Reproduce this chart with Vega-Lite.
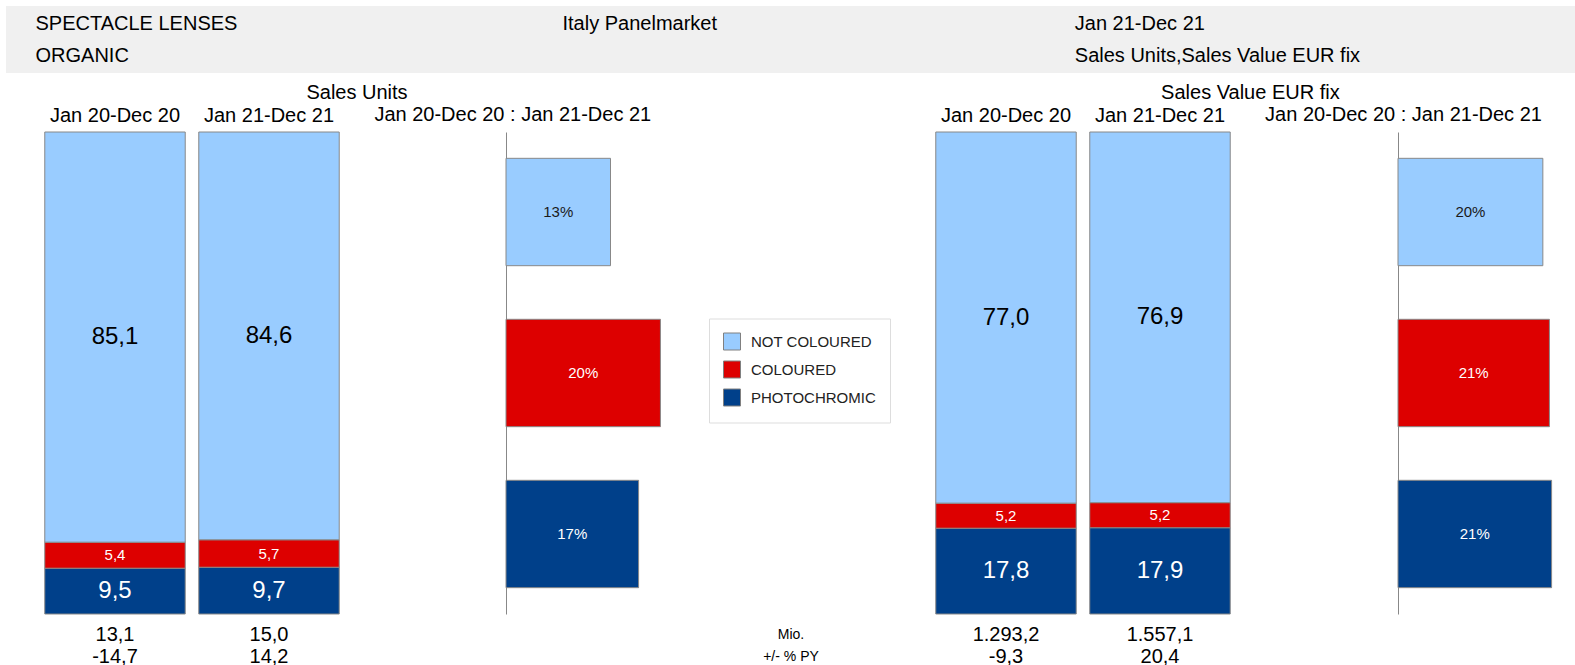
{
  "$schema": "https://vega.github.io/schema/vega-lite/v6.json",
  "padding": {"left": 6, "top": 6, "right": 0, "bottom": 0},
  "background": "white",
  "config": {
    "font": "Liberation Sans, Arial, sans-serif",
    "view": {"stroke": null},
    "title": {"fontSize": 20, "fontWeight": "normal", "color": "black", "font": "Liberation Sans, Arial, sans-serif"},
    "axis": {"labelFont": "Liberation Sans, Arial, sans-serif"},
    "text": {"font": "Liberation Sans, Arial, sans-serif"},
    "locale": {"number": {"decimal": ",", "thousands": ".", "grouping": [3], "currency": ["", " €"], "minus": "-"}}
  },
  "datasets": {
    "header": [
      {"column": "left", "line": "top", "label": "SPECTACLE LENSES"},
      {"column": "left", "line": "bottom", "label": "ORGANIC"},
      {"column": "middle", "line": "top", "label": "Italy Panelmarket"},
      {"column": "right", "line": "top", "label": "Jan 21-Dec 21"},
      {"column": "right", "line": "bottom", "label": "Sales Units,Sales Value EUR fix"}
    ],
    "shares": [
      {"measure": "Sales Units", "period": "Jan 20-Dec 20", "category": "PHOTOCHROMIC", "share": 9.5},
      {"measure": "Sales Units", "period": "Jan 20-Dec 20", "category": "COLOURED", "share": 5.4},
      {"measure": "Sales Units", "period": "Jan 20-Dec 20", "category": "NOT COLOURED", "share": 85.1},
      {"measure": "Sales Units", "period": "Jan 21-Dec 21", "category": "PHOTOCHROMIC", "share": 9.7},
      {"measure": "Sales Units", "period": "Jan 21-Dec 21", "category": "COLOURED", "share": 5.7},
      {"measure": "Sales Units", "period": "Jan 21-Dec 21", "category": "NOT COLOURED", "share": 84.6},
      {"measure": "Sales Value EUR fix", "period": "Jan 20-Dec 20", "category": "PHOTOCHROMIC", "share": 17.8},
      {"measure": "Sales Value EUR fix", "period": "Jan 20-Dec 20", "category": "COLOURED", "share": 5.2},
      {"measure": "Sales Value EUR fix", "period": "Jan 20-Dec 20", "category": "NOT COLOURED", "share": 77.0},
      {"measure": "Sales Value EUR fix", "period": "Jan 21-Dec 21", "category": "PHOTOCHROMIC", "share": 17.9},
      {"measure": "Sales Value EUR fix", "period": "Jan 21-Dec 21", "category": "COLOURED", "share": 5.2},
      {"measure": "Sales Value EUR fix", "period": "Jan 21-Dec 21", "category": "NOT COLOURED", "share": 76.9}
    ],
    "changes": [
      {"measure": "Sales Units", "category": "NOT COLOURED", "change": 0.134},
      {"measure": "Sales Units", "category": "COLOURED", "change": 0.198},
      {"measure": "Sales Units", "category": "PHOTOCHROMIC", "change": 0.170},
      {"measure": "Sales Value EUR fix", "category": "NOT COLOURED", "change": 0.199},
      {"measure": "Sales Value EUR fix", "category": "COLOURED", "change": 0.208},
      {"measure": "Sales Value EUR fix", "category": "PHOTOCHROMIC", "change": 0.211}
    ],
    "totals": [
      {"measure": "Sales Units", "period": "Jan 20-Dec 20", "line": "Mio.", "value": 13.1},
      {"measure": "Sales Units", "period": "Jan 20-Dec 20", "line": "+/- % PY", "value": -14.7},
      {"measure": "Sales Units", "period": "Jan 21-Dec 21", "line": "Mio.", "value": 15.0},
      {"measure": "Sales Units", "period": "Jan 21-Dec 21", "line": "+/- % PY", "value": 14.2},
      {"measure": "Sales Value EUR fix", "period": "Jan 20-Dec 20", "line": "Mio.", "value": 1293.2},
      {"measure": "Sales Value EUR fix", "period": "Jan 20-Dec 20", "line": "+/- % PY", "value": -9.3},
      {"measure": "Sales Value EUR fix", "period": "Jan 21-Dec 21", "line": "Mio.", "value": 1557.1},
      {"measure": "Sales Value EUR fix", "period": "Jan 21-Dec 21", "line": "+/- % PY", "value": 20.4}
    ],
    "rowLabels": [
      {"line": "Mio."},
      {"line": "+/- % PY"}
    ]
  },
  "columns": 10,
  "align": "each",
  "bounds": "flush",
  "spacing": 0,
  "concat": [
    {"width": 32, "height": 67, "view": {"fill": "#f0f0f0"}, "data": {"values": []}, "mark": "point"},
    {
      "width": 308, "height": 67, "view": {"fill": "#f0f0f0"},
      "data": {"name": "header"},
      "transform": [{"filter": "datum.column === 'left'"}],
      "mark": {"type": "text", "align": "left", "baseline": "middle", "fontSize": 20, "color": "black"},
      "encoding": {
        "x": {"field": "column", "type": "nominal", "scale": {"range": [-2.5, -2.5], "padding": 0}, "axis": null},
        "y": {"field": "line", "type": "nominal", "scale": {"domain": ["top", "bottom"], "range": [17.9, 49.8], "padding": 0}, "axis": null},
        "text": {"field": "label"}
      }
    },
    {"width": 160, "height": 67, "view": {"fill": "#f0f0f0"}, "data": {"values": []}, "mark": "point"},
    {"width": 174, "height": 67, "view": {"fill": "#f0f0f0"}, "data": {"values": []}, "mark": "point"},
    {
      "width": 61, "height": 67, "view": {"fill": "#f0f0f0"},
      "data": {"name": "header"},
      "transform": [{"filter": "datum.column === 'middle'"}],
      "mark": {"type": "text", "align": "left", "baseline": "middle", "fontSize": 20, "color": "black"},
      "encoding": {
        "x": {"field": "column", "type": "nominal", "scale": {"range": [-117.5, -117.5], "padding": 0}, "axis": null},
        "y": {"field": "line", "type": "nominal", "scale": {"domain": ["top", "bottom"], "range": [17.9, 49.8], "padding": 0}, "axis": null},
        "text": {"field": "label"}
      }
    },
    {"width": 100, "height": 67, "view": {"fill": "#f0f0f0"}, "data": {"values": []}, "mark": "point"},
    {"width": 88, "height": 67, "view": {"fill": "#f0f0f0"}, "data": {"values": []}, "mark": "point"},
    {"width": 308, "height": 67, "view": {"fill": "#f0f0f0"}, "data": {"values": []}, "mark": "point"},
    {
      "width": 161, "height": 67, "view": {"fill": "#f0f0f0"},
      "data": {"name": "header"},
      "transform": [{"filter": "datum.column === 'right'"}],
      "mark": {"type": "text", "align": "left", "baseline": "middle", "fontSize": 20, "color": "black"},
      "encoding": {
        "x": {"field": "column", "type": "nominal", "scale": {"range": [-162.2, -162.2], "padding": 0}, "axis": null},
        "y": {"field": "line", "type": "nominal", "scale": {"domain": ["top", "bottom"], "range": [17.9, 49.8], "padding": 0}, "axis": null},
        "text": {"field": "label"}
      }
    },
    {"width": 177, "height": 67, "view": {"fill": "#f0f0f0"}, "data": {"values": []}, "mark": "point"},

    {"width": 0, "height": 59, "data": {"values": []}, "mark": "point"},
    {"width": 0, "height": 59, "data": {"values": []}, "mark": "point"},
    {"width": 0, "height": 59, "data": {"values": []}, "mark": "point"},
    {"width": 0, "height": 59, "data": {"values": []}, "mark": "point"},
    {"width": 0, "height": 59, "data": {"values": []}, "mark": "point"},
    {"width": 0, "height": 59, "data": {"values": []}, "mark": "point"},
    {"width": 0, "height": 59, "data": {"values": []}, "mark": "point"},
    {"width": 0, "height": 59, "data": {"values": []}, "mark": "point"},
    {"width": 0, "height": 59, "data": {"values": []}, "mark": "point"},
    {"width": 0, "height": 59, "data": {"values": []}, "mark": "point"},

    {"width": 0, "height": 0, "data": {"values": []}, "mark": "point"},
    {
      "width": 308, "height": 482,
      "data": {"name": "shares"},
      "transform": [
        {"filter": "datum.measure === 'Sales Units'"},
        {"stack": "share", "groupby": ["period"], "as": ["v0", "v1"]},
        {"calculate": "(datum.v0 + datum.v1) / 2", "as": "mid"}
      ],
      "title": {"text": "Sales Units", "anchor": "start", "align": "center", "dx": 319, "offset": 2},
      "encoding": {
        "x": {"field": "period", "type": "nominal", "scale": {"paddingInner": 0.088, "paddingOuter": 0.044},
              "axis": {"orient": "top", "title": null, "labelAngle": 0, "ticks": false, "tickSize": 0, "domain": false, "labelPadding": 7, "labelFontSize": 20, "labelColor": "black"}}
      },
      "layer": [
        {
          "mark": {"type": "bar", "stroke": "#888888", "strokeWidth": 1},
          "encoding": {
            "y": {"field": "v0", "type": "quantitative", "scale": {"domain": [0, 100], "nice": false}, "axis": null},
            "y2": {"field": "v1"},
            "color": {"field": "category", "type": "nominal",
              "scale": {"domain": ["NOT COLOURED", "COLOURED", "PHOTOCHROMIC"], "range": ["#99CCFF", "#DD0000", "#00408A"]},
              "legend": {"title": null, "orient": "none", "legendX": 703, "legendY": 312.5, "symbolType": "square", "symbolSize": 289, "symbolStrokeColor": "#808080", "symbolStrokeWidth": 1, "labelFontSize": 15, "labelColor": "#222222", "labelOffset": 10, "rowPadding": 6, "padding": 14, "strokeColor": "#dddddd", "fillColor": "white", "labelFont": "Liberation Sans, Arial, sans-serif"}}
          }
        },
        {
          "mark": {"type": "text", "baseline": "middle"},
          "encoding": {
            "y": {"field": "mid", "type": "quantitative"},
            "text": {"field": "share", "type": "quantitative", "format": ".1f"},
            "color": {"condition": {"test": "datum.category === 'NOT COLOURED'", "value": "#000000"}, "value": "#ffffff"},
            "size": {"condition": {"test": "datum.category === 'COLOURED'", "value": 15}, "value": 24}
          }
        }
      ]
    },
    {"width": 0, "height": 0, "data": {"values": []}, "mark": "point"},
    {
      "width": 174, "height": 482,
      "data": {"name": "changes"},
      "transform": [
        {"filter": "datum.measure === 'Sales Units'"},
        {"calculate": "datum.change / 2", "as": "mid"}
      ],
      "title": {"text": "Jan 20-Dec 20 : Jan 21-Dec 21", "anchor": "start", "align": "center", "dx": 7.3, "offset": 7},
      "encoding": {
        "y": {"field": "category", "type": "nominal", "scale": {"domain": ["NOT COLOURED", "COLOURED", "PHOTOCHROMIC"], "paddingInner": 0.333, "paddingOuter": 0.1635},
              "axis": {"title": null, "labels": false, "ticks": false, "domain": true, "domainColor": "#888888", "domainWidth": 1, "grid": false}}
      },
      "layer": [
        {
          "mark": {"type": "bar", "stroke": "#888888", "strokeWidth": 1},
          "encoding": {
            "x": {"field": "change", "type": "quantitative", "scale": {"domain": [0, 0.2231], "nice": false}, "axis": null},
            "color": {"field": "category", "type": "nominal",
              "scale": {"domain": ["NOT COLOURED", "COLOURED", "PHOTOCHROMIC"], "range": ["#99CCFF", "#DD0000", "#00408A"]},
              "legend": {"title": null, "orient": "none", "legendX": 703, "legendY": 312.5, "symbolType": "square", "symbolSize": 289, "symbolStrokeColor": "#808080", "symbolStrokeWidth": 1, "labelFontSize": 15, "labelColor": "#222222", "labelOffset": 10, "rowPadding": 6, "padding": 14, "strokeColor": "#dddddd", "fillColor": "white", "labelFont": "Liberation Sans, Arial, sans-serif"}}
          }
        },
        {
          "mark": {"type": "text", "baseline": "middle", "fontSize": 15},
          "encoding": {
            "x": {"field": "mid", "type": "quantitative"},
            "text": {"field": "change", "type": "quantitative", "format": ".0%"},
            "color": {"condition": {"test": "datum.category === 'NOT COLOURED'", "value": "#1a1a1a"}, "value": "#ffffff"}
          }
        }
      ]
    },
    {"width": 0, "height": 0, "data": {"values": []}, "mark": "point"},
    {"width": 0, "height": 0, "data": {"values": []}, "mark": "point"},
    {"width": 0, "height": 0, "data": {"values": []}, "mark": "point"},
    {
      "width": 308, "height": 482,
      "data": {"name": "shares"},
      "transform": [
        {"filter": "datum.measure === 'Sales Value EUR fix'"},
        {"stack": "share", "groupby": ["period"], "as": ["v0", "v1"]},
        {"calculate": "(datum.v0 + datum.v1) / 2", "as": "mid"}
      ],
      "title": {"text": "Sales Value EUR fix", "anchor": "start", "align": "center", "dx": 321.4, "offset": 2},
      "encoding": {
        "x": {"field": "period", "type": "nominal", "scale": {"paddingInner": 0.088, "paddingOuter": 0.044},
              "axis": {"orient": "top", "title": null, "labelAngle": 0, "ticks": false, "tickSize": 0, "domain": false, "labelPadding": 7, "labelFontSize": 20, "labelColor": "black"}}
      },
      "layer": [
        {
          "mark": {"type": "bar", "stroke": "#888888", "strokeWidth": 1},
          "encoding": {
            "y": {"field": "v0", "type": "quantitative", "scale": {"domain": [0, 100], "nice": false}, "axis": null},
            "y2": {"field": "v1"},
            "color": {"field": "category", "type": "nominal",
              "scale": {"domain": ["NOT COLOURED", "COLOURED", "PHOTOCHROMIC"], "range": ["#99CCFF", "#DD0000", "#00408A"]},
              "legend": {"title": null, "orient": "none", "legendX": 703, "legendY": 312.5, "symbolType": "square", "symbolSize": 289, "symbolStrokeColor": "#808080", "symbolStrokeWidth": 1, "labelFontSize": 15, "labelColor": "#222222", "labelOffset": 10, "rowPadding": 6, "padding": 14, "strokeColor": "#dddddd", "fillColor": "white", "labelFont": "Liberation Sans, Arial, sans-serif"}}
          }
        },
        {
          "mark": {"type": "text", "baseline": "middle"},
          "encoding": {
            "y": {"field": "mid", "type": "quantitative"},
            "text": {"field": "share", "type": "quantitative", "format": ".1f"},
            "color": {"condition": {"test": "datum.category === 'NOT COLOURED'", "value": "#000000"}, "value": "#ffffff"},
            "size": {"condition": {"test": "datum.category === 'COLOURED'", "value": 15}, "value": 24}
          }
        }
      ]
    },
    {"width": 0, "height": 0, "data": {"values": []}, "mark": "point"},
    {
      "width": 160, "height": 482,
      "data": {"name": "changes"},
      "transform": [
        {"filter": "datum.measure === 'Sales Value EUR fix'"},
        {"calculate": "datum.change / 2", "as": "mid"}
      ],
      "title": {"text": "Jan 20-Dec 20 : Jan 21-Dec 21", "anchor": "start", "align": "center", "dx": 6, "offset": 7},
      "encoding": {
        "y": {"field": "category", "type": "nominal", "scale": {"domain": ["NOT COLOURED", "COLOURED", "PHOTOCHROMIC"], "paddingInner": 0.333, "paddingOuter": 0.1635},
              "axis": {"title": null, "labels": false, "ticks": false, "domain": true, "domainColor": "#888888", "domainWidth": 1, "grid": false}}
      },
      "layer": [
        {
          "mark": {"type": "bar", "stroke": "#888888", "strokeWidth": 1},
          "encoding": {
            "x": {"field": "change", "type": "quantitative", "scale": {"domain": [0, 0.2198], "nice": false}, "axis": null},
            "color": {"field": "category", "type": "nominal",
              "scale": {"domain": ["NOT COLOURED", "COLOURED", "PHOTOCHROMIC"], "range": ["#99CCFF", "#DD0000", "#00408A"]},
              "legend": {"title": null, "orient": "none", "legendX": 703, "legendY": 312.5, "symbolType": "square", "symbolSize": 289, "symbolStrokeColor": "#808080", "symbolStrokeWidth": 1, "labelFontSize": 15, "labelColor": "#222222", "labelOffset": 10, "rowPadding": 6, "padding": 14, "strokeColor": "#dddddd", "fillColor": "white", "labelFont": "Liberation Sans, Arial, sans-serif"}}
          }
        },
        {
          "mark": {"type": "text", "baseline": "middle", "fontSize": 15},
          "encoding": {
            "x": {"field": "mid", "type": "quantitative"},
            "text": {"field": "change", "type": "quantitative", "format": ".0%"},
            "color": {"condition": {"test": "datum.category === 'NOT COLOURED'", "value": "#1a1a1a"}, "value": "#ffffff"}
          }
        }
      ]
    },

    {"width": 0, "height": 0, "data": {"values": []}, "mark": "point"},
    {
      "width": 308, "height": 46,
      "data": {"name": "totals"},
      "transform": [{"filter": "datum.measure === 'Sales Units'"}],
      "mark": {"type": "text", "fontSize": 20, "color": "black", "baseline": "middle"},
      "encoding": {
        "x": {"field": "period", "type": "nominal", "axis": null},
        "y": {"field": "line", "type": "nominal", "scale": {"domain": ["Mio.", "+/- % PY"], "range": [21, 43], "padding": 0}, "axis": null},
        "text": {"field": "value", "type": "quantitative", "format": ",.1f"}
      }
    },
    {"width": 0, "height": 0, "data": {"values": []}, "mark": "point"},
    {"width": 0, "height": 0, "data": {"values": []}, "mark": "point"},
    {"width": 0, "height": 0, "data": {"values": []}, "mark": "point"},
    {
      "width": 100, "height": 46,
      "data": {"name": "rowLabels"},
      "mark": {"type": "text", "fontSize": 14, "color": "black", "baseline": "middle"},
      "encoding": {
        "y": {"field": "line", "type": "nominal", "scale": {"domain": ["Mio.", "+/- % PY"], "range": [21, 43], "padding": 0}, "axis": null},
        "text": {"field": "line"}
      }
    },
    {"width": 0, "height": 0, "data": {"values": []}, "mark": "point"},
    {
      "width": 308, "height": 46,
      "data": {"name": "totals"},
      "transform": [{"filter": "datum.measure === 'Sales Value EUR fix'"}],
      "mark": {"type": "text", "fontSize": 20, "color": "black", "baseline": "middle"},
      "encoding": {
        "x": {"field": "period", "type": "nominal", "axis": null},
        "y": {"field": "line", "type": "nominal", "scale": {"domain": ["Mio.", "+/- % PY"], "range": [21, 43], "padding": 0}, "axis": null},
        "text": {"field": "value", "type": "quantitative", "format": ",.1f"}
      }
    },
    {"width": 0, "height": 0, "data": {"values": []}, "mark": "point"},
    {"width": 0, "height": 0, "data": {"values": []}, "mark": "point"}
  ]
}
